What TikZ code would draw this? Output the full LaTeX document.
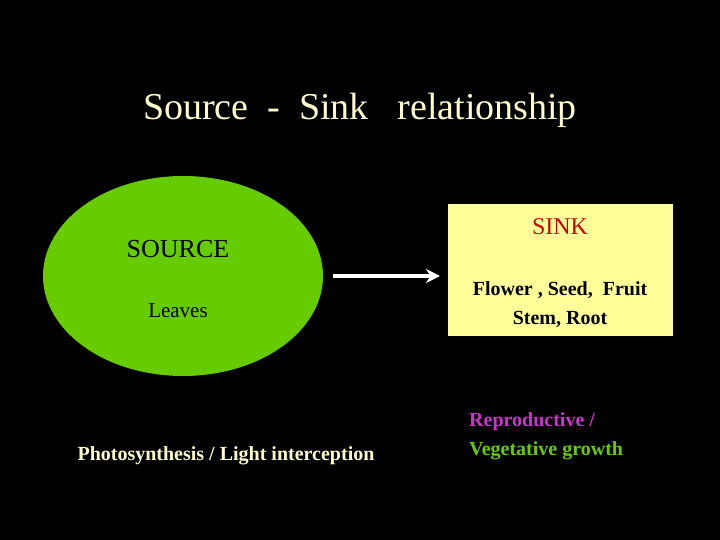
\documentclass[tikz,border=0pt]{standalone}
\usepackage{fontspec}
\usetikzlibrary{shapes.geometric,arrows.meta}
\setmainfont{Liberation Serif}
\begin{document}
\begin{tikzpicture}[x=1pt,y=-1pt,
  lbl/.style={font=\fontsize{20}{23}\selectfont\bfseries, inner sep=0pt}]
\fill[black] (0,0) rectangle (720,540);
\useasboundingbox (0,0) rectangle (720,540);
\node[inner sep=0pt, text=yellow!20, font=\fontsize{38}{44}\selectfont] (title) at (360,110) {Source\ \ -\ \ Sink\ \ \ relationship};
\node[ellipse, draw=none, fill={rgb,255:red,102;green,204;blue,0}, minimum width=280, minimum height=200] (src) at (183,276) {};
\node[inner sep=0pt, font=\fontsize{26}{30}\selectfont] (srct) at (178,249) {SOURCE};
\node[inner sep=0pt, font=\fontsize{21}{24}\selectfont] (leaves) at (178,311) {Leaves};
\node[fill={rgb,255:red,255;green,255;blue,153}, minimum width=225, minimum height=132, inner sep=0pt] (sink) at (560.5,270) {};
\node[inner sep=0pt, text={rgb,255:red,204;green,0;blue,0}, font=\fontsize{24}{28}\selectfont] (sinkt) at (560,227) {SINK};
\node[lbl, align=center, font=\fontsize{20}{29}\selectfont\bfseries] (parts) at (560,305) {Flower , Seed,\ \ Fruit\\Stem, Root};
\coordinate (a1) at (333,276);
\coordinate (a2) at (440,276);
\draw[white, line width=4pt, -{Stealth[length=14pt,width=14pt]}] (a1) -- (a2);
\node[lbl, text=yellow!20] (photo) at (226,456) {Photosynthesis / Light interception};
\node[lbl, anchor=west, text={rgb,255:red,204;green,51;blue,204}] (rep) at (469,422) {Reproductive /};
\node[lbl, anchor=west, text={rgb,255:red,102;green,204;blue,0}] (veg) at (469,451) {Vegetative growth};
\end{tikzpicture}
\end{document}
